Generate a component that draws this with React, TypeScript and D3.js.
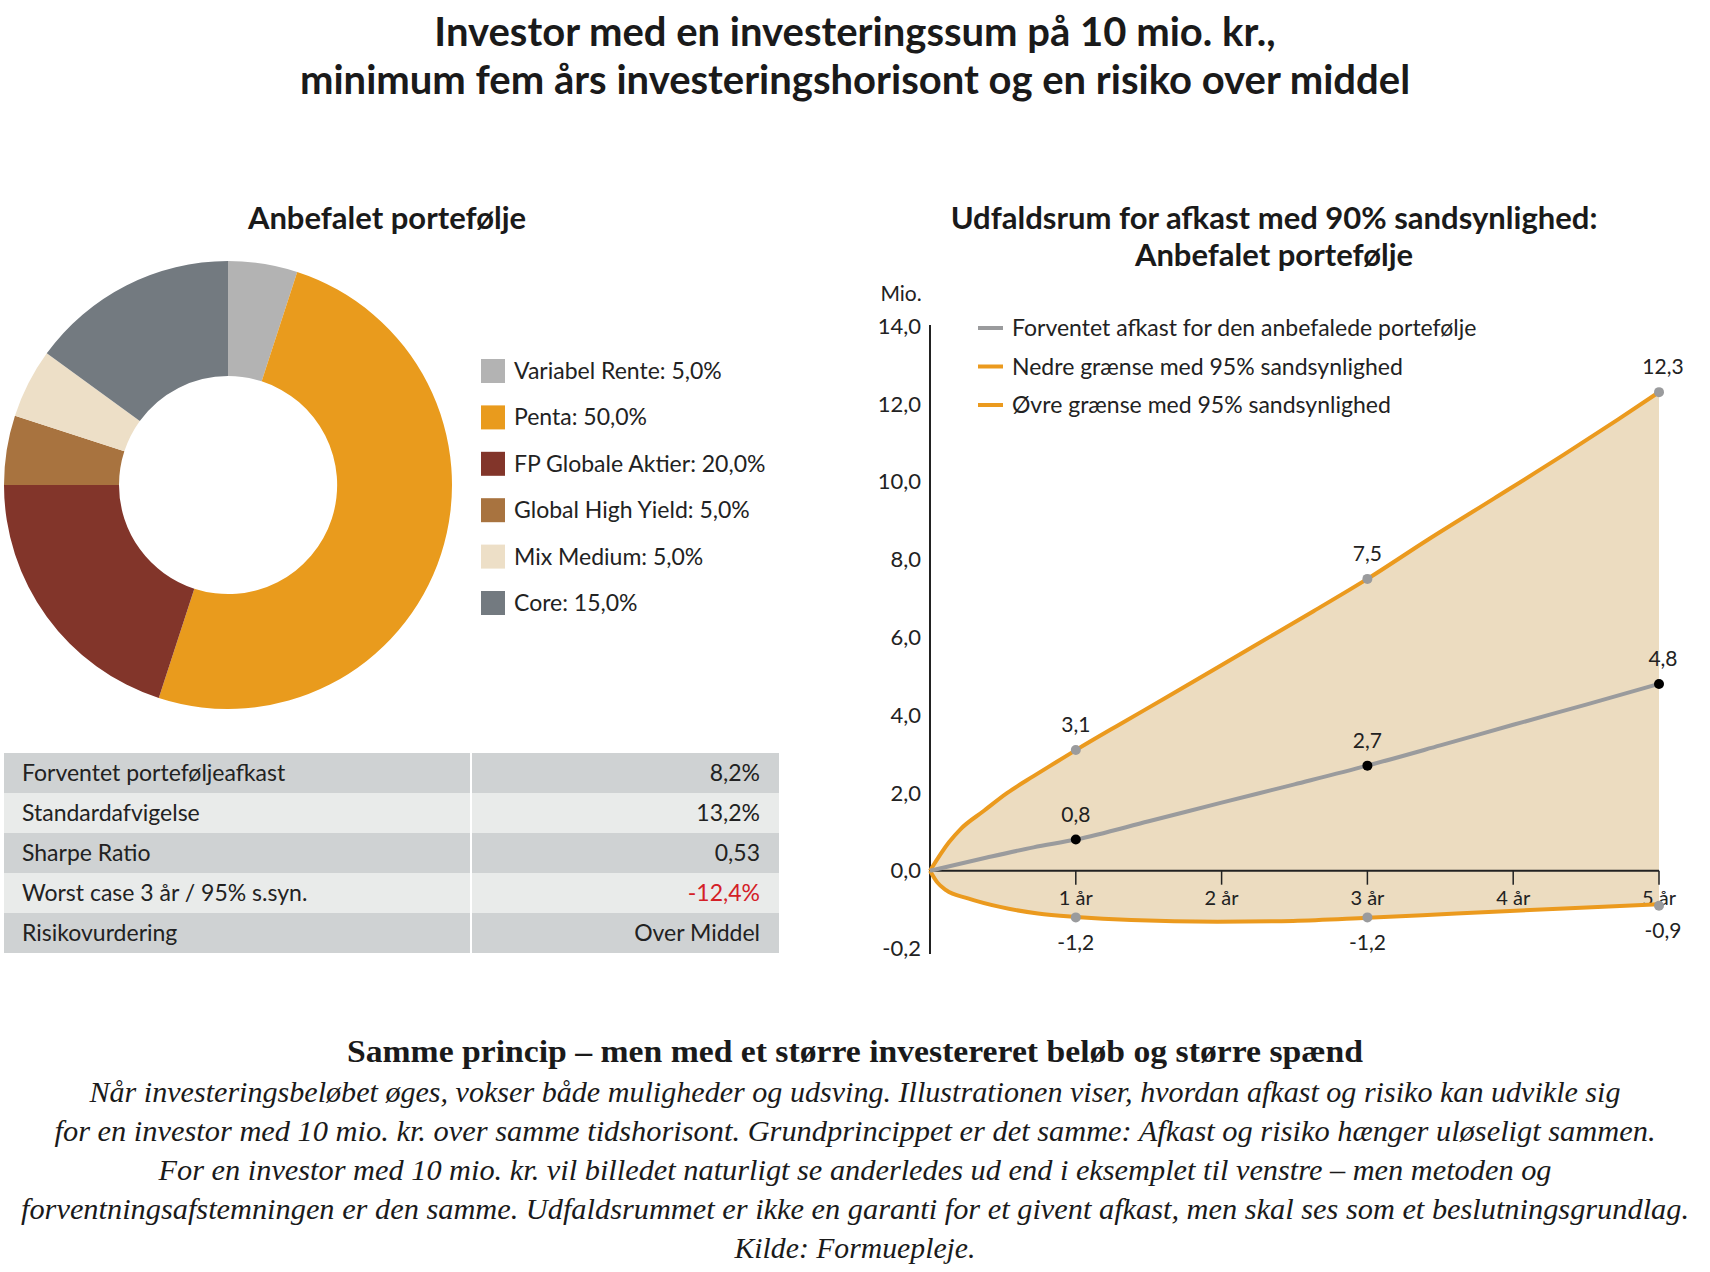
import React, { useEffect } from "react";
import * as d3 from "d3";

const W = 1710;
const H = 1272;
const SANS = "Lato, 'Open Sans', sans-serif";
const SERIF = "'Liberation Serif', 'DejaVu Serif', serif";

// titles
const titleLines = [
  "Investor med en investeringssum på 10 mio. kr.,",
  "minimum fem års investeringshorisont og en risiko over middel",
];
const pieTitle = "Anbefalet portefølje";
const lineTitle = ["Udfaldsrum for afkast med 90% sandsynlighed:", "Anbefalet portefølje"];

// portfolio
const holdings = ["Variabel Rente", "Penta", "FP Globale Aktier", "Global High Yield", "Mix Medium", "Core"];
const weights = [5, 50, 20, 5, 5, 15];
const holdingColors = ["#b3b3b3", "#e99b1d", "#82352a", "#a8733f", "#eddfc7", "#737a80"];

// key figures table
const figureLabels = [
  "Forventet porteføljeafkast",
  "Standardafvigelse",
  "Sharpe Ratio",
  "Worst case 3 år / 95% s.syn.",
  "Risikovurdering",
];
const figureValues = ["8,2%", "13,2%", "0,53", "-12,4%", "Over Middel"];

// outcome space (mio. kr.)
const upperYears = [0, 0.13, 0.21, 0.37, 0.53, 0.71, 0.87, 1, 1.3, 1.62, 2.22, 2.63, 3, 3.42, 3.87, 4.35, 4.72, 5];
const upperValues = [0, 0.73, 1.07, 1.54, 2.0, 2.43, 2.8, 3.1, 3.76, 4.45, 5.77, 6.67, 7.5, 8.52, 9.57, 10.7, 11.6, 12.3];
const midYears = [0, 0.39, 0.71, 1, 1.5, 2, 2.5, 3, 3.5, 4, 4.5, 5];
const midValues = [0, 0.34, 0.6, 0.8, 1.27, 1.75, 2.22, 2.7, 3.22, 3.75, 4.27, 4.8];
const lowerYears = [0, 0.05, 0.11, 0.26, 0.48, 0.74, 1, 1.38, 1.97, 2.49, 3, 3.61, 4.35, 5];
const lowerValues = [0, -0.3, -0.5, -0.71, -0.93, -1.1, -1.19, -1.27, -1.31, -1.29, -1.21, -1.1, -0.97, -0.86];

const markYears = [1, 3, 5];
const upperMarks = [3.1, 7.5, 12.3];
const midMarks = [0.8, 2.7, 4.8];
const lowerMarks = [-1.2, -1.2, -0.9];

const yTicks = [-2, 0, 2, 4, 6, 8, 10, 12, 14];
const yTickLabels = ["-0,2", "0,0", "2,0", "4,0", "6,0", "8,0", "10,0", "12,0", "14,0"];
const xTicks = [1, 2, 3, 4, 5];
const xTickLabels = ["1 år", "2 år", "3 år", "4 år", "5 år"];
const seriesNames = [
  "Forventet afkast for den anbefalede portefølje",
  "Nedre grænse med 95% sandsynlighed",
  "Øvre grænse med 95% sandsynlighed",
];
const seriesColors = ["#9a9b9d", "#eb9a1e", "#eb9a1e"];

// note below
const noteTitle = "Samme princip – men med et større investereret beløb og større spænd";
const noteLines = [
  "Når investeringsbeløbet øges, vokser både muligheder og udsving. Illustrationen viser, hvordan afkast og risiko kan udvikle sig",
  "for en investor med 10 mio. kr. over samme tidshorisont. Grundprincippet er det samme: Afkast og risiko hænger uløseligt sammen.",
  "For en investor med 10 mio. kr. vil billedet naturligt se anderledes ud end i eksemplet til venstre – men metoden og",
  "forventningsafstemningen er den samme. Udfaldsrummet er ikke en garanti for et givent afkast, men skal ses som et beslutningsgrundlag.",
  "Kilde: Formuepleje.",
];
const noteWidths = [1531, 1601, 1393, 1668, 241];

const fmt = (v: number) => v.toFixed(1).replace(".", ",");

export default function App() {
  useEffect(() => {
    document.body.style.margin = "0";
  }, []);

  // donut
  const pie = d3.pie<number>().sort(null).value((d) => d)(weights);
  const arc = d3.arc<d3.PieArcDatum<number>>().innerRadius(109).outerRadius(224);

  // line chart
  const x = d3.scaleLinear().domain([0, 5]).range([930, 1659]);
  const y = d3.scaleLinear().domain([0, 14]).range([870.7, 326]);
  const line = d3
    .line<[number, number]>()
    .x((d) => x(d[0]))
    .y((d) => y(d[1]))
    .curve(d3.curveMonotoneX);
  const band = d3
    .area<[number, number]>()
    .x((d) => x(d[0]))
    .y0(y(0))
    .y1((d) => y(d[1]))
    .curve(d3.curveMonotoneX);

  const upperPts = upperYears.map((t, i) => [t, upperValues[i]] as [number, number]);
  const midPts = midYears.map((t, i) => [t, midValues[i]] as [number, number]);
  const lowerPts = lowerYears.map((t, i) => [t, lowerValues[i]] as [number, number]);

  return (
    <svg width={W} height={H} style={{ display: "block", background: "#fff" }}>
      {/* main title */}
      {titleLines.map((t, i) => (
        <text key={i} x={855} y={32 + i * 48} dy="0.35em" textAnchor="middle"
          fontFamily={SANS} fontWeight={700} fontSize={40} fill="#1a1a1a">{t}</text>
      ))}

      {/* donut */}
      <text x={387} y={218} dy="0.35em" textAnchor="middle" fontFamily={SANS} fontWeight={700} fontSize={31} fill="#1a1a1a">
        {pieTitle}
      </text>
      <g transform="translate(228,485)">
        {pie.map((p, i) => (
          <path key={i} d={arc(p) as string} fill={holdingColors[i]} />
        ))}
      </g>
      {holdings.map((h, i) => (
        <g key={h} transform={`translate(481,${371 + i * 46.4})`}>
          <rect x={0} y={-12} width={24} height={24} fill={holdingColors[i]} />
          <text x={33} y={0} dy="0.35em" fontFamily={SANS} fontSize={23} fill="#222">
            {`${h}: ${fmt(weights[i])}%`}
          </text>
        </g>
      ))}

      {/* key figures */}
      {figureLabels.map((l, i) => (
        <g key={l} transform={`translate(4,${753 + i * 40})`}>
          <rect x={0} y={0} width={775} height={40} fill={i % 2 === 0 ? "#cfd2d3" : "#e9ebea"} />
          <text x={18} y={20} dy="0.35em" fontFamily={SANS} fontSize={23} fill="#222">{l}</text>
          <text x={756} y={20} dy="0.35em" textAnchor="end" fontFamily={SANS} fontSize={23}
            fill={figureValues[i].startsWith("-") ? "#d42027" : "#222"}>{figureValues[i]}</text>
        </g>
      ))}
      <line x1={471} x2={471} y1={753} y2={953} stroke="#fff" strokeWidth={2} />

      {/* outcome chart */}
      {lineTitle.map((t, i) => (
        <text key={i} x={1274} y={218 + i * 37} dy="0.35em" textAnchor="middle"
          fontFamily={SANS} fontWeight={700} fontSize={31} fill="#1a1a1a">{t}</text>
      ))}
      <text x={901} y={294} dy="0.35em" textAnchor="middle" fontFamily={SANS} fontSize={21} fill="#222">Mio.</text>

      <path d={band(upperPts) as string} fill="#ecdcc0" stroke="none" />
      <path d={band(lowerPts) as string} fill="#ecdcc0" stroke="none" />

      {yTicks.map((v, i) => (
        <text key={v} x={921} y={y(v)} dy="0.35em" textAnchor="end" fontFamily={SANS} fontSize={22} fill="#222">
          {yTickLabels[i]}
        </text>
      ))}
      <line x1={x(0)} x2={x(0)} y1={325} y2={954} stroke="#222" strokeWidth={2} />
      <line x1={x(0)} x2={x(5)} y1={y(0)} y2={y(0)} stroke="#222" strokeWidth={2} />
      {xTicks.map((t, i) => (
        <g key={t}>
          <line x1={x(t)} x2={x(t)} y1={y(0)} y2={y(0) + 14} stroke="#222" strokeWidth={1.5} />
          <text x={x(t)} y={898} dy="0.35em" textAnchor="middle" fontFamily={SANS} fontSize={20} fill="#222">
            {xTickLabels[i]}
          </text>
        </g>
      ))}

      <path d={line(upperPts) as string} fill="none" stroke={seriesColors[2]} strokeWidth={4} strokeLinejoin="round" />
      <path d={line(lowerPts) as string} fill="none" stroke={seriesColors[1]} strokeWidth={4} strokeLinejoin="round" />
      <path d={line(midPts) as string} fill="none" stroke={seriesColors[0]} strokeWidth={4} strokeLinejoin="round" />

      {markYears.map((t, i) => (
        <g key={t}>
          <circle cx={x(t)} cy={y(upperMarks[i])} r={5} fill="#9a9b9d" />
          <text x={x(t) + (t === 5 ? 4 : 0)} y={y(upperMarks[i]) - 25} dy="0.35em" textAnchor="middle"
            fontFamily={SANS} fontSize={21} fill="#222">{fmt(upperMarks[i])}</text>
          <circle cx={x(t)} cy={y(midMarks[i])} r={5} fill="#000" />
          <text x={x(t) + (t === 5 ? 4 : 0)} y={y(midMarks[i]) - 25} dy="0.35em" textAnchor="middle"
            fontFamily={SANS} fontSize={21} fill="#222">{fmt(midMarks[i])}</text>
          <circle cx={x(t)} cy={y(lowerMarks[i])} r={5} fill="#9a9b9d" />
          <text x={x(t) + (t === 5 ? 4 : 0)} y={y(lowerMarks[i]) + 25} dy="0.35em" textAnchor="middle"
            fontFamily={SANS} fontSize={21} fill="#222">{fmt(lowerMarks[i])}</text>
        </g>
      ))}

      {seriesNames.map((s, i) => (
        <g key={s} transform={`translate(978,${328 + i * 38.5})`}>
          <line x1={0} x2={25} y1={0} y2={0} stroke={seriesColors[i]} strokeWidth={4} />
          <text x={34} y={0} dy="0.35em" fontFamily={SANS} fontSize={23} fill="#222">{s}</text>
        </g>
      ))}

      {/* note */}
      <text x={855} y={1051} dy="0.35em" textAnchor="middle" fontFamily={SERIF} fontWeight={700} fontSize={32}
        fill="#1a1a1a" textLength={1016} lengthAdjust="spacingAndGlyphs">
        {noteTitle}
      </text>
      {noteLines.map((l, i) => (
        <text key={i} x={855} y={1091 + i * 39.2} dy="0.35em" textAnchor="middle" fontFamily={SERIF}
          fontStyle="italic" fontSize={30} fill="#1a1a1a" textLength={noteWidths[i]} lengthAdjust="spacingAndGlyphs">
          {l}
        </text>
      ))}
    </svg>
  );
}
